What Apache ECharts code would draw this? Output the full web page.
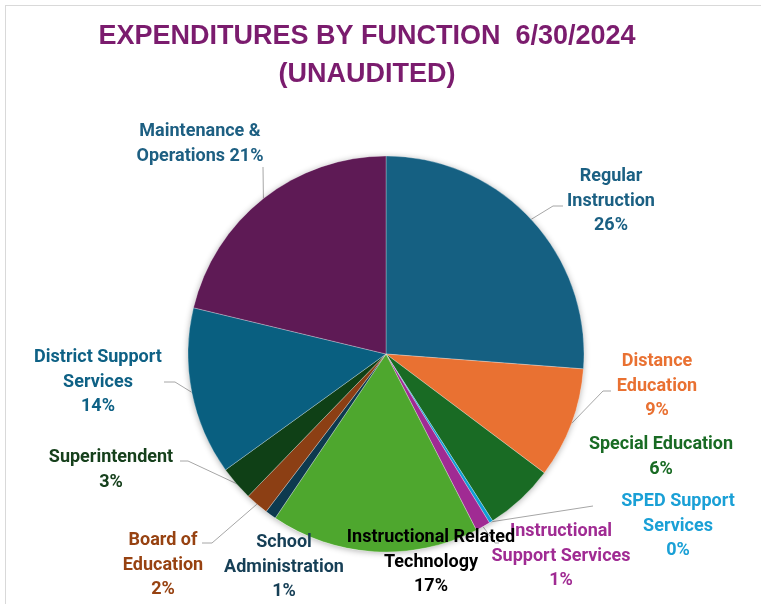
<!DOCTYPE html>
<html>
<head>
<meta charset="utf-8">
<script src="https://cdn.jsdelivr.net/npm/echarts@6/dist/echarts.min.js"></script>
<style>
  html, body { margin: 0; padding: 0; background: #fff; overflow: hidden; }
  #frame { position: absolute; left: 5px; top: 5px; width: 800px; height: 700px; border: 1px solid #d9d9d9; }
  #chart { position: absolute; left: 0; top: 0; width: 761px; height: 604px; }
</style>
</head>
<body>
<div id="frame"></div>
<div id="chart"></div>
<script>
  // data (percent of total)
  var categories = ['Regular Instruction', 'Distance Education', 'Special Education', 'SPED Support Services',
    'Instructional Support Services', 'Instructional Related Technology', 'School Administration',
    'Board of Education', 'Superintendent', 'District Support Services', 'Maintenance & Operations'];
  var shares = [26.2, 9.05, 5.7, 0.3, 1.2, 17.0, 0.9, 1.9, 2.8, 13.7, 21.25];
  // label wording as shown, {p} = rounded percent
  var labelText = ['Regular\nInstruction\n{p}%', 'Distance\nEducation\n{p}%', 'Special Education\n{p}%',
    'SPED Support\nServices\n{p}%', 'Instructional\nSupport Services\n{p}%', 'Instructional Related\nTechnology\n{p}%',
    'School\nAdministration\n{p}%', 'Board of\nEducation\n{p}%', 'Superintendent\n{p}%',
    'District Support\nServices\n{p}%', 'Maintenance &\nOperations {p}%'];

  var sliceColors = ['#156082', '#E97132', '#196B24', '#0F9ED5', '#A02B93', '#4EA72E',
    '#0D3A4F', '#8C3F14', '#0F4016', '#095F80', '#5E1A55'];
  var labelColors = ['#1B6083', '#E97132', '#196B24', '#1AA0D6', '#A02B93', '#000000',
    '#163F56', '#974211', '#16401C', '#0E6185', '#1D5F82'];

  // label block centres and leader line bends (layout only)
  var labelPos = [[611, 201], [657, 386], [661, 457], [678, 526], [561, 556], [431, 562],
    [284, 567], [163, 565], [111, 470], [98, 382], [200, 144]];
  var leaderPts = [[[553, 206], [563, 206]], [[603, 391], [611, 391]], null, [[593, 506], [593, 506]],
    [[495, 543], [499, 543]], null, null, [[212, 543], [202, 543]], [[188, 461], [180, 461]],
    [[175, 382], [164, 382]], [[263, 167], [263, 167]]];

  var total = shares.reduce(function (a, b) { return a + b; }, 0);
  var center = [386, 354];
  var radius = 198;

  var chart = echarts.init(document.getElementById('chart'));

  var pieData = categories.map(function (name, i) {
    return {
      name: name,
      value: shares[i],
      itemStyle: { color: sliceColors[i] },
      label: { color: labelColors[i] },
      labelLine: { show: !!leaderPts[i] }
    };
  });

  var option = {
    animation: false,
    graphic: [
      {
        type: 'text', x: 367, y: 18,
        style: {
          text: 'EXPENDITURES BY FUNCTION  6/30/2024\n(UNAUDITED)',
          fill: '#7B1C6E', font: 'bold 27px "Liberation Sans", Arial, sans-serif',
          textAlign: 'center', textVerticalAlign: 'top', lineHeight: 38
        }
      }
    ],
    series: [
      {
        // backdrop for the soft shadow round the pie
        type: 'pie', silent: true, center: center, radius: radius,
        data: [{ value: total, itemStyle: { color: '#ffffff', shadowBlur: 6, shadowColor: 'rgba(0,0,0,0.3)', shadowOffsetY: 1 } }],
        label: { show: false }, labelLine: { show: false }
      },
      {
        type: 'pie',
        center: center,
        radius: radius,
        startAngle: 90,
        clockwise: true,
        avoidLabelOverlap: false,
        itemStyle: { borderColor: 'rgba(255,255,255,0.45)', borderWidth: 0.6 },
        label: {
          show: true,
          position: 'outside',
          fontFamily: 'Roboto, sans-serif',
          fontWeight: 'bold',
          fontSize: 18,
          lineHeight: 24.5,
          align: 'center',
          formatter: function (p) {
            return labelText[p.dataIndex].replace('{p}', Math.round(p.percent));
          }
        },
        labelLine: { show: true, length: 10, length2: 10, lineStyle: { color: '#a6a6a6', width: 1 } },
        labelLayout: function (params) {
          var i = params.dataIndex;
          var out = { x: labelPos[i][0], y: labelPos[i][1], align: 'center', verticalAlign: 'middle' };
          if (leaderPts[i] && params.labelLinePoints) {
            out.labelLinePoints = [params.labelLinePoints[0], leaderPts[i][0], leaderPts[i][1]];
          }
          return out;
        },
        data: pieData
      }
    ]
  };

  chart.setOption(option);
</script>
</body>
</html>
